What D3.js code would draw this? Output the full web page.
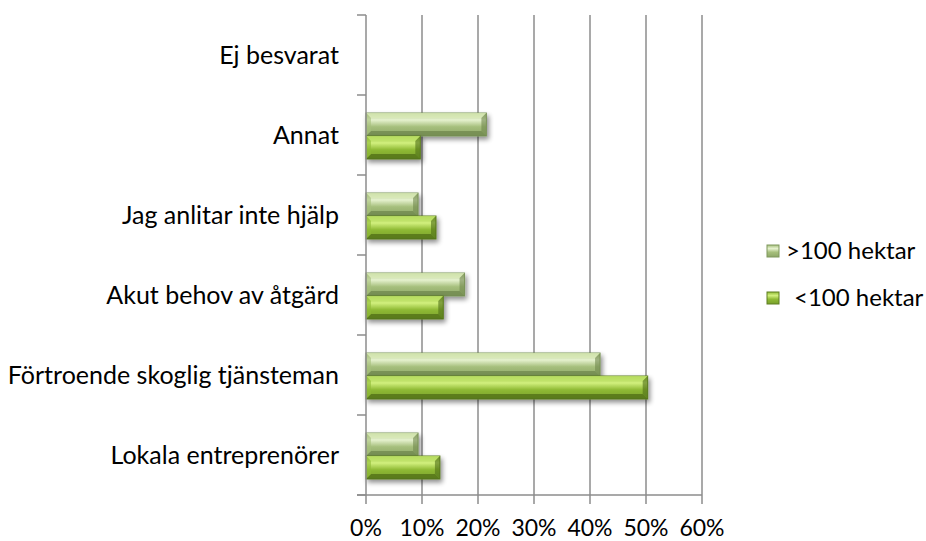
<!DOCTYPE html>
<html><head><meta charset="utf-8">
<script src="https://cdn.jsdelivr.net/npm/d3@7"></script>
<style>body{margin:0;background:#fff}text{font-family:Lato,"Open Sans",sans-serif;fill:#000}</style>
</head><body><svg id="c" width="926" height="541"></svg>
<script>
const categories = ["Ej besvarat","Annat","Jag anlitar inte hjälp","Akut behov av åtgärd","Förtroende skoglig tjänsteman","Lokala entreprenörer"];
const seriesNames = [">100 hektar","<100 hektar"];
const over100 = [0, 0.215, 0.093, 0.176, 0.418, 0.093];
const under100 = [0, 0.097, 0.125, 0.138, 0.503, 0.132];
const xTicks = [0,0.1,0.2,0.3,0.4,0.5,0.6];

const svg = d3.select("#c");
const x = d3.scaleLinear().domain([0,0.6]).range([366,702]);
const y = d3.scaleBand().domain(categories).range([15,495]);
const defs = svg.append("defs");
const pal = [
  {top:"#e6f2cf", mid:"#a6bf7c", bot:"#8ea868", edge:"#7f975d", light:"#d9eab8", dark:"#6f874d"},
  {top:"#d2f07e", mid:"#8fba35", bot:"#79a02a", edge:"#5f7f22", light:"#c0e46a", dark:"#4f6e18"}
];
pal.forEach((p,i)=>{
  const g = defs.append("linearGradient").attr("id","g"+i).attr("x1",0).attr("x2",0).attr("y1",0).attr("y2",1);
  g.append("stop").attr("offset","0%").attr("stop-color",p.mid);
  g.append("stop").attr("offset","30%").attr("stop-color",p.top);
  g.append("stop").attr("offset","60%").attr("stop-color",p.mid);
  g.append("stop").attr("offset","100%").attr("stop-color",p.bot);
});
const f = defs.append("filter").attr("id","sh").attr("x","-10%").attr("y","-30%").attr("width","130%").attr("height","190%");
f.append("feGaussianBlur").attr("in","SourceAlpha").attr("stdDeviation",2.5);
f.append("feOffset").attr("dx",2).attr("dy",3).attr("result","b");
f.append("feComponentTransfer").append("feFuncA").attr("type","linear").attr("slope",0.45);
const m = f.append("feMerge"); m.append("feMergeNode"); m.append("feMergeNode").attr("in","SourceGraphic");

// gridlines
svg.append("g").selectAll("line").data(xTicks.slice(1)).join("line")
  .attr("x1",d=>x(d)).attr("x2",d=>x(d)).attr("y1",15).attr("y2",495)
  .attr("stroke","#8c8c8c").attr("stroke-width",1.5);

// bars
const bh = 23;
const data = [];
categories.forEach((c,i)=>{
  [over100[i],under100[i]].forEach((v,s)=>{ if(v>0) data.push({c,v,s}); });
});
const bars = svg.append("g").selectAll("g").data(data).join("g")
  .attr("filter","url(#sh)")
  .attr("transform",d=>`translate(${x(0)},${y(d.c)+y.bandwidth()/2-22+d.s*bh})`);
bars.append("rect").attr("width",d=>x(d.v)-x(0)).attr("height",bh)
  .attr("fill",d=>`url(#g${d.s})`).attr("stroke",d=>pal[d.s].edge).attr("stroke-width",1);
const b = 5;
bars.append("polygon").attr("points",d=>{const w=x(d.v)-x(0);return `0,0 ${w},0 ${w-b},${b} ${b},${b}`;})
  .attr("fill",d=>pal[d.s].light).attr("opacity",0.8);
bars.append("polygon").attr("points",d=>{const w=x(d.v)-x(0);return `0,${bh} ${w},${bh} ${w-b},${bh-b} ${b},${bh-b}`;})
  .attr("fill",d=>pal[d.s].dark).attr("opacity",0.75);
bars.append("polygon").attr("points",d=>{const w=x(d.v)-x(0);return `${w},0 ${w},${bh} ${w-b},${bh-b} ${w-b},${b}`;})
  .attr("fill",d=>pal[d.s].dark).attr("opacity",0.6);
bars.append("polygon").attr("points",`0,0 0,${bh} ${b},${bh-b} ${b},${b}`)
  .attr("fill",d=>pal[d.s].mid).attr("opacity",0.6);

// y axis
const yTickPos = d3.range(categories.length+1).map(i=>15+i*y.step());
svg.append("line").attr("x1",366).attr("x2",366).attr("y1",15).attr("y2",495).attr("stroke","#8c8c8c").attr("stroke-width",1.5);
svg.append("g").selectAll("line").data(yTickPos).join("line")
  .attr("x1",357).attr("x2",366).attr("y1",d=>d).attr("y2",d=>d).attr("stroke","#8c8c8c").attr("stroke-width",1.5);
svg.append("g").selectAll("text").data(categories).join("text")
  .attr("x",339).attr("y",d=>y(d)+y.bandwidth()/2).attr("text-anchor","end").attr("dy","0.35em")
  .attr("font-size",25).text(d=>d);

// x axis
svg.append("line").attr("x1",357).attr("x2",702).attr("y1",495).attr("y2",495).attr("stroke","#8c8c8c").attr("stroke-width",1.5);
svg.append("g").selectAll("line").data(xTicks).join("line")
  .attr("x1",d=>x(d)).attr("x2",d=>x(d)).attr("y1",495).attr("y2",504).attr("stroke","#8c8c8c").attr("stroke-width",1.5);
svg.append("g").selectAll("text").data(xTicks).join("text")
  .attr("x",d=>x(d)).attr("y",528).attr("dy","0.35em").attr("text-anchor","middle").attr("font-size",23)
  .text(d=>d3.format(".0%")(d));

// legend
const leg = svg.append("g").selectAll("g").data(seriesNames).join("g")
  .attr("transform",(d,i)=>`translate(767,${251+i*47})`);
leg.append("rect").attr("x",0).attr("y",-6).attr("width",12).attr("height",12)
  .attr("fill",(d,i)=>`url(#g${i})`).attr("stroke",(d,i)=>pal[i].edge);
leg.append("text").attr("x",(d,i)=>i===0?19:27).attr("dy","0.35em").attr("font-size",24).text(d=>d);
</script></body></html>
